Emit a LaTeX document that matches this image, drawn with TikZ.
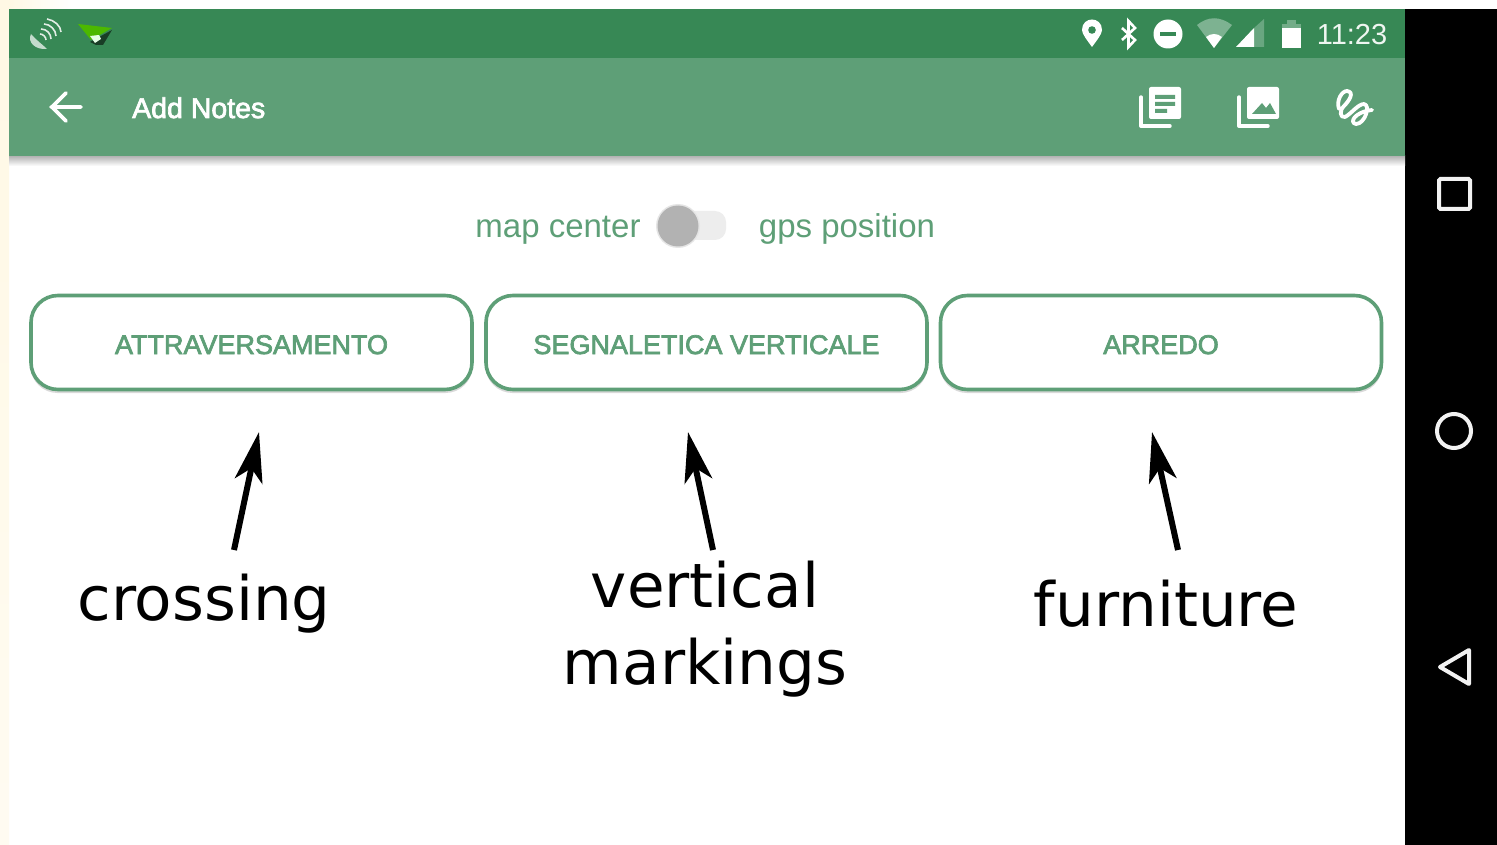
\documentclass[tikz,border=0pt]{standalone}
\usepackage{fontspec}
\setmainfont{Noto Sans}
\newfontfamily\dejavu{DejaVu Sans}
\newfontfamily\ui{Liberation Sans}
\newcommand{\medtxt}[1]{\special{pdf:code 2 Tr 0.7 w}#1\special{pdf:code 0 Tr}}
\usetikzlibrary{arrows.meta,shadows,shapes.geometric,calc}
\definecolor{statusgreen}{HTML}{378855}
\definecolor{bargreen}{HTML}{5E9F77}
\definecolor{cream}{HTML}{FFF8E4}
\tikzset{
 x=1pt,y=-1pt,
 pill/.style={draw=bargreen,line width=3.6pt,rounded corners=27pt,fill=white,minimum width=441pt,minimum height=94pt,inner sep=0pt,text=bargreen},
 pilltext/.style={text=bargreen,inner sep=0pt,anchor=base,font=\ui\fontsize{27}{30}\selectfont},
 annot/.style={font=\dejavu\fontsize{61.2}{78}\selectfont,text=black,align=center,inner sep=0pt},
 bigarrow/.style={-{Stealth[length=50pt,width=28pt,inset=13pt]},line width=6pt,black},
 toggletext/.style={text=bargreen,font=\ui\fontsize{33}{34}\selectfont,inner sep=0pt,anchor=base},
 icon/.style={fill=white,draw=none},
 iconline/.style={draw=white,line width=3.4pt,line cap=round,line join=round},
}
\begin{document}
\begin{tikzpicture}
\useasboundingbox (0,0) rectangle (1497,845);
\fill[white] (0,0) rectangle (1497,845);
% cream edge
\shade[top color=cream,bottom color=white!50!cream] (0,0) rectangle (9,845);
\shade[left color=cream,right color=white] (9,0) rectangle (72,9);
% black side
\fill[black] (1405,9) rectangle (1497,845);
% shadow
\shade[top color=black!30,bottom color=white] (9,156) rectangle (1405,166);
% bars
\fill[statusgreen] (9,9) rectangle (1405,58);
\fill[bargreen] (9,58) rectangle (1405,156);
% status left icons
\fill[white!70!statusgreen] (31,34) .. controls (27,42) and (35,50) .. (47,49) .. controls (42,44) and (36,40) .. (31,34) -- cycle;
\draw[white!85!statusgreen,line width=1.6pt] (40,34) .. controls (43,34) and (46,37) .. (46,40);
\draw[white!85!statusgreen,line width=1.6pt] (41,29) .. controls (47,29) and (51,34) .. (51,39);
\draw[white!85!statusgreen,line width=1.6pt] (44,24) .. controls (50,24) and (56,30) .. (56,36);
\draw[white!85!statusgreen,line width=1.6pt] (47,19) .. controls (54,20) and (61,26) .. (61,32);
\fill[black!55!statusgreen] (90,42) -- (112,30) -- (103,45) -- (96,45) -- cycle;
\fill[green!60!black!70!yellow] (78,24) -- (112,28) -- (91,40) -- cycle;
\fill[white!90!green] (90,36) -- (99,35) -- (101,39) -- (95,43) -- cycle;
% status right icons
\fill[white] (1092,47) .. controls (1087,40) and (1082,34) .. (1082,30) .. controls (1082,16) and (1102,16) .. (1102,30) .. controls (1102,34) and (1097,40) .. (1092,47) -- cycle;
\fill[statusgreen] (1092,30) circle (3.8pt);
\draw[white,line width=2.6pt,line join=miter] (1122,28) -- (1135,40) -- (1128.5,47) -- (1128.5,21) -- (1135,28) -- (1122,40);
\fill[white] (1168,34) circle (14.5pt);
\fill[statusgreen] (1160,32) rectangle (1176,36.5);
\fill[white!35!statusgreen] (1197,25) .. controls (1208,16) and (1220,16) .. (1232,25) -- (1214,48) -- cycle;
\fill[white] (1206,37) .. controls (1211,33) and (1217,33) .. (1222,37) -- (1214,48) -- cycle;
\fill[white!25!statusgreen] (1264,19) -- (1264,47) -- (1254,47) -- (1254,28) -- cycle;
\fill[white] (1254,28) -- (1254,47) -- (1236,47) -- cycle;
\fill[white!30!statusgreen] (1282,24) rectangle (1301,48);
\fill[white!30!statusgreen] (1287,20) rectangle (1296,24);
\fill[white] (1282,28) rectangle (1301,48);
\node[font=\ui\fontsize{29}{30}\selectfont,text=white!92!statusgreen,inner sep=0pt,anchor=base] (clock) at (1352,45) {11:23};
% toolbar
\draw[white,line width=3.6pt,line cap=round,line join=round] (51,107) -- (81,107) (66,93) -- (52,107) -- (66,121);
\node[font=\ui\fontsize{28.5}{30}\selectfont,text=white,inner sep=0pt,anchor=base west] (title) at (132,118) {\medtxt{Add Notes}};
% list icon
\draw[iconline] (1141,97) -- (1141,126) -- (1170,126);
\fill[icon,rounded corners=2pt] (1149,87) rectangle (1181,119);
\fill[bargreen] (1155,95) rectangle (1175,99) (1155,102) rectangle (1175,106) (1155,109) rectangle (1167,113);
% image icon
\draw[iconline] (1239,97) -- (1239,126) -- (1268,126);
\fill[icon,rounded corners=2pt] (1247,87) rectangle (1279,119);
\fill[bargreen] (1252,114) -- (1262,103) -- (1266,108) -- (1270,103) -- (1276,114) -- cycle;
% scribble
\draw[iconline,line width=3.8pt] (1339,109) .. controls (1336,100) and (1342,91) .. (1347,91) .. controls (1355,92) and (1349,101) .. (1344,106) .. controls (1339,111) and (1340,118) .. (1345,117) .. controls (1351,114) and (1358,104) .. (1364,104) .. controls (1371,105) and (1365,124) .. (1356,124) .. controls (1349,123) and (1354,112) .. (1372,110);
% toggle line
\node[toggletext] (mapc) at (558,238) {map center};
\fill[black!7,rounded corners=11pt] (680,211) rectangle (726,240);
\fill[black!10] (678,226) circle (22pt);
\fill[black!30] (678,226) circle (20.5pt);
\node[toggletext] (gps) at (847,238) {gps position};
% buttons
\foreach \n/\x/\t in {a/251.5/ATTRAVERSAMENTO,b/706.5/SEGNALETICA VERTICALE,c/1161/ARREDO}{
 \fill[black!15,rounded corners=27pt] (\x-221,297) rectangle (\x+221,393);
 \node[pill] (\n) at (\x,342.5) {};
 \node[pilltext] (\n t) at (\x,354) {\medtxt{\t}};
}
% annotations
\node[annot,anchor=base] (crossing) at (204,620) {crossing};
\node[annot,anchor=base] (vert) at (705,607) {vertical};
\node[annot,anchor=base] (mark) at (705,684) {markings};
\node[annot,anchor=base] (furn) at (1166,626) {furniture};
\coordinate (a1) at (234,550); \coordinate (a2) at (259,432);
\coordinate (b1) at (713,550); \coordinate (b2) at (688,432);
\coordinate (c1) at (1178,550); \coordinate (c2) at (1152,432);
\draw[bigarrow] (a1) -- (a2);
\draw[bigarrow] (b1) -- (b2);
\draw[bigarrow] (c1) -- (c2);
% nav
\draw[white!95!black,line width=4pt,rounded corners=1.5pt] (1439,179) rectangle (1470,209);
\draw[white!95!black,line width=4pt] (1454,431) circle (17pt);
\draw[white!95!black,line width=4pt,line join=round] (1469,650) -- (1469,684) -- (1440,667) -- cycle;
\end{tikzpicture}
\end{document}
